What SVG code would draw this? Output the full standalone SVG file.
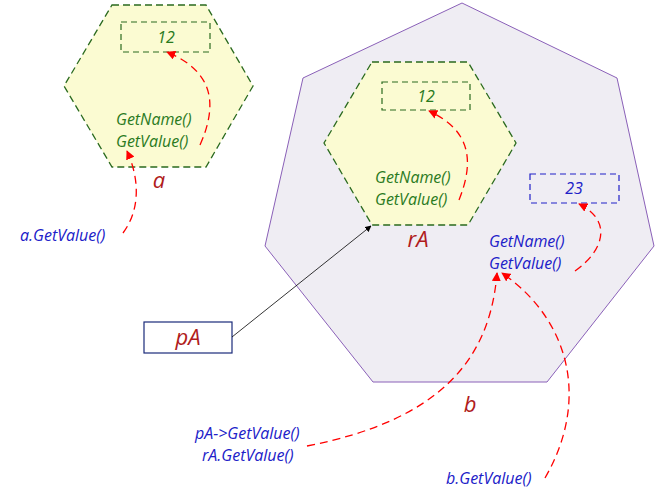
<svg xmlns="http://www.w3.org/2000/svg" width="658" height="496" viewBox="0 0 658 496">
<defs>
<marker id="ra" viewBox="0 0 10 10" refX="9" refY="5" markerWidth="7" markerHeight="7" orient="auto"><path d="M0,0L10,5L0,10z" fill="#ff0000"/></marker>
<marker id="ka" viewBox="0 0 10 10" refX="9" refY="5" markerWidth="8" markerHeight="8" orient="auto"><path d="M0,0L10,5L0,10z" fill="#000"/></marker>
</defs>
<style>
text{font-family:"Open Sans","Liberation Sans",sans-serif;font-style:italic}
.g{fill:#2a7a1e;font-size:16px}
.b{fill:#2020c8;font-size:16px}
.r{fill:#b01c1c;font-size:22px}
.hex{fill:#fbfbd2;stroke:#2a6a1e;stroke-width:1.3;stroke-dasharray:7,4}
.gb{fill:none;stroke:#2a6a1e;stroke-width:1.2;stroke-dasharray:6,4}
.bb{fill:none;stroke:#2020c8;stroke-width:1.2;stroke-dasharray:6,4}
.dl{fill:none;stroke:#ff0000;stroke-width:1.3;stroke-dasharray:8,5;marker-end:url(#ra)}
</style>
<g id="b"><polygon points="462,3 617,78 654,246 547,382 373,382 265,246 303,78" fill="#efedf3" stroke="#8a60b8" stroke-width="1"/>
<text x="470" y="412" class="r" text-anchor="middle">b</text></g>
<g id="a"><polygon class="hex" points="112,5 206,5 253,86 206,167 112,167 64,86"/>
<rect class="gb" x="121" y="22" width="89" height="30"/>
<text x="166" y="43" class="g" text-anchor="middle">12</text>
<text x="116" y="125" class="g">GetName()</text>
<text x="116" y="147" class="g">GetValue()</text>
<text x="159" y="188" class="r" text-anchor="middle">a</text></g>
<g id="rA"><polygon class="hex" points="372,62 468,62 516,143 468,225 372,225 324,143"/>
<rect class="gb" x="382" y="82" width="88" height="28"/>
<text x="426" y="102" class="g" text-anchor="middle">12</text>
<text x="375" y="183" class="g">GetName()</text>
<text x="375" y="205" class="g">GetValue()</text>
<text x="418" y="247" class="r" text-anchor="middle">rA</text></g>
<g id="bmembers"><rect class="bb" x="530" y="174" width="89" height="29"/>
<text x="574" y="194" class="b" text-anchor="middle">23</text>
<text x="489" y="247" class="b">GetName()</text>
<text x="489" y="269" class="b">GetValue()</text></g>
<g id="pA"><rect x="144" y="322" width="88" height="31" fill="#fff" stroke="#1a2a7a" stroke-width="1.2"/>
<text x="188" y="345" class="r" text-anchor="middle">pA</text></g>
<g id="calls">
<text x="20" y="241" class="b">a.GetValue()</text>
<text x="195" y="439" class="b">pA-&gt;GetValue()</text>
<text x="202" y="461" class="b">rA.GetValue()</text>
<text x="446" y="484" class="b">b.GetValue()</text></g>
<g id="connectors">
<path class="dl" d="M200,145 C220,100 210,70 167,52"/>
<path class="dl" d="M123,233 C140,210 140,180 127,151"/>
<path class="dl" d="M459,200 C475,160 470,130 429,111"/>
<path class="dl" d="M575,271 C605,250 612,220 579,204"/>
<path class="dl" d="M307,446 C440,420 490,360 497,273"/>
<path class="dl" d="M545,478 C590,400 570,320 502,273"/>
<path d="M232,337 L371,226" stroke="#000" stroke-width="0.8" fill="none" marker-end="url(#ka)"/>
</g>
</svg>
